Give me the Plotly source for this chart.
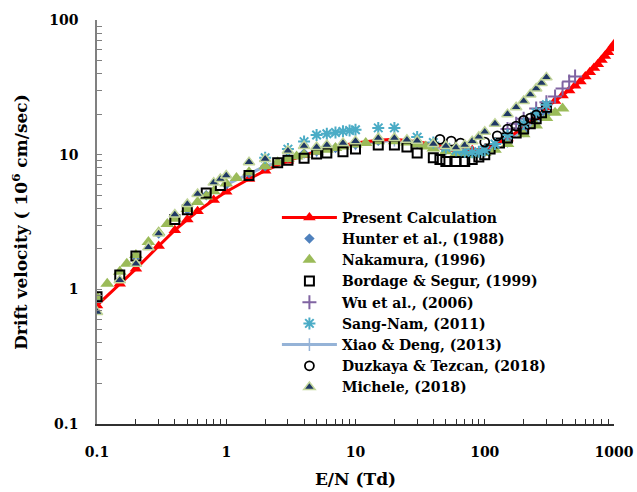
import plotly.graph_objects as go

# ---------------- data ----------------
pc_x = [0.1, 0.15, 0.2, 0.3, 0.4, 0.5, 0.6, 0.8, 1, 1.5, 2, 3, 4, 5, 6, 8, 10, 15, 20, 30, 40, 50, 60, 80, 100,
        150, 200, 250, 300, 350, 400, 450, 500, 550, 600, 650, 700, 750, 800, 850, 900, 950, 1000]
pc_v = [0.76, 1.1, 1.42, 2.1, 2.75, 3.3, 3.8, 4.6, 5.3, 6.6, 7.6, 9.0, 9.9, 10.5, 11.0, 11.7, 12.2, 12.8, 13.0,
        12.5, 11.9, 11.4, 11.0, 10.8, 11.0, 13.2, 16.0, 19.0, 22.5, 25.0, 27.5, 30.0, 32.5, 35.0, 38.0, 41.0,
        44.0, 47.0, 50.5, 54.0, 57.5, 61.5, 66.0]

hu_x = [0.1, 0.2, 0.3, 0.5, 0.7, 1, 1.5, 2, 3, 4, 5, 7, 10, 15, 20, 30, 50, 70, 100, 150, 200, 300]
hu_v = [0.86, 1.75, 2.6, 3.9, 5.0, 6.0, 7.3, 8.2, 9.5, 10.2, 10.6, 11.2, 11.9, 12.7, 13.0, 12.2, 10.9, 10.3,
        10.6, 12.3, 14.8, 20.0]

nk_x = [0.1, 0.12, 0.15, 0.17, 0.2, 0.25, 0.3, 0.35, 0.4, 0.5, 0.6, 0.7, 0.8, 1, 1.2, 1.5, 2, 2.5, 3, 3.5, 4,
        5, 6, 7, 8, 10, 12, 15, 20, 25, 30, 35, 40, 50, 60, 70, 80, 100, 120, 150, 200, 250, 300, 350, 400]
nk_v = [0.88, 1.1, 1.35, 1.55, 1.8, 2.25, 2.65, 3.05, 3.35, 3.95, 4.45, 4.9, 5.35, 6.1, 6.7, 7.4, 8.2, 8.8,
        9.3, 9.7, 10.0, 10.5, 10.9, 11.2, 11.5, 11.9, 12.2, 12.6, 12.6, 12.3, 11.9, 11.5, 11.1, 10.6, 10.2,
        10.0, 10.0, 10.3, 10.9, 12.0, 14.2, 16.5, 18.7, 20.5, 22.0]

bs_x = [0.1, 0.15, 0.2, 0.4, 0.5, 0.7, 0.9, 1.5, 2.5, 3, 4, 5, 6, 8, 10, 15, 20, 25, 30, 40, 45, 50, 60, 70,
        80, 90, 100, 110, 130, 150, 175, 200, 225, 250, 275, 300]
bs_v = [0.88, 1.28, 1.77, 3.3, 3.9, 5.2, 5.9, 7.0, 8.7, 9.1, 9.4, 10.1, 10.3, 10.5, 11.0, 11.8, 11.8, 11.4,
        10.3, 9.5, 9.2, 8.9, 8.9, 8.9, 9.2, 9.6, 10.0, 11.0, 12.2, 13.3, 14.5, 15.5, 17.0, 18.5, 20.5, 22.5]

wu_x = [150, 175, 200, 250, 300, 350, 400, 450, 500]
wu_v = [15.5, 17.0, 18.5, 22.0, 24.5, 27.0, 31.0, 35.0, 38.0]

sn_x = [2, 3, 4, 5, 6, 7, 8, 9, 10, 15, 20, 30, 40, 50, 60, 70, 80, 90, 100, 120, 150, 200, 250, 300]
sn_v = [9.5, 11.0, 12.5, 14.0, 14.3, 14.6, 14.9, 15.1, 15.3, 15.8, 15.8, 13.5, 12.3, 11.3, 10.8, 10.5, 10.4,
        10.5, 10.8, 12.0, 14.0, 17.0, 20.5, 23.5]

xd_x = [1, 2, 5, 10, 20, 50, 100, 200, 300]
xd_v = [6.0, 8.2, 10.6, 12.0, 12.8, 11.0, 10.6, 15.0, 20.0]

dt_x = [45, 55, 65, 100, 125, 150, 175, 200, 225, 250]
dt_v = [13.0, 12.6, 12.2, 12.4, 13.8, 15.5, 16.3, 18.0, 18.7, 19.7]

mi_x = [0.1, 0.15, 0.2, 0.25, 0.3, 0.4, 0.5, 0.6, 0.8, 0.9, 1, 1.5, 2, 3, 4, 5, 6, 8, 10, 15, 20, 25, 30,
        40, 50, 60, 70, 80, 90, 100, 120, 150, 175, 200, 225, 250, 275, 300]
mi_v = [0.68, 1.17, 1.55, 2.05, 2.6, 3.6, 4.3, 5.1, 6.2, 6.6, 7.0, 8.8, 9.3, 10.7, 11.6, 11.4, 11.8, 12.2,
        12.6, 13.3, 13.3, 12.9, 12.7, 12.0, 11.6, 11.3, 11.8, 12.6, 13.6, 14.8, 17.0, 20.0, 22.5, 25.0,
        28.0, 31.0, 34.0, 37.5]

x_tick_decades = [0.1, 1, 10, 100, 1000]
x_tick_text = ["0.1", "1", "10", "100", "1000"]
y_tick_decades = [0.1, 1, 10, 100]
y_tick_text = ["0.1", "1", "10", "100"]

# ---------------- figure ----------------
FONT = "DejaVu Serif"
fig = go.Figure()

fig.add_trace(go.Scatter(x=xd_x, y=xd_v, mode="lines+markers", name="Xiao & Deng, (2013)",
                         line=dict(color="#95B3D7", width=3),
                         marker=dict(symbol="line-ns", size=9, line=dict(color="#95B3D7", width=1.5)),
                         legendrank=7))
fig.add_trace(go.Scatter(x=pc_x, y=pc_v, mode="lines+markers", name="Present Calculation",
                         line=dict(color="#FF0000", width=3),
                         marker=dict(symbol="triangle-up", size=11, color="#FF0000"),
                         legendrank=1))
fig.add_trace(go.Scatter(x=hu_x, y=hu_v, mode="markers", name="Hunter et al., (1988)",
                         marker=dict(symbol="diamond", size=8, color="#4F81BD"),
                         legendrank=2))
fig.add_trace(go.Scatter(x=nk_x, y=nk_v, mode="markers", name="Nakamura, (1996)",
                         marker=dict(symbol="triangle-up", size=12, color="#9BBB59"),
                         legendrank=3))
fig.add_trace(go.Scatter(x=bs_x, y=bs_v, mode="markers", name="Bordage & Segur, (1999)",
                         marker=dict(symbol="square-open", size=9, color="#000000", line=dict(width=2)),
                         legendrank=4))
fig.add_trace(go.Scatter(x=wu_x, y=wu_v, mode="markers", name="Wu et al., (2006)",
                         marker=dict(symbol="cross-thin", size=10, color="#8064A2",
                                     line=dict(color="#8064A2", width=2)),
                         legendrank=5))
fig.add_trace(go.Scatter(x=sn_x, y=sn_v, mode="markers", name="Sang-Nam, (2011)",
                         marker=dict(symbol="asterisk-open", size=10, color="#4BACC6",
                                     line=dict(color="#4BACC6", width=2)),
                         legendrank=6))
fig.add_trace(go.Scatter(x=dt_x, y=dt_v, mode="markers", name="Duzkaya & Tezcan, (2018)",
                         marker=dict(symbol="circle-open", size=9, color="#000000", line=dict(width=1.8)),
                         legendrank=8))
fig.add_trace(go.Scatter(x=mi_x, y=mi_v, mode="markers", name="Michele, (2018)",
                         marker=dict(symbol="triangle-up", size=10, color="#1F3864",
                                     line=dict(color="#C3D69B", width=1.5)),
                         legendrank=9))

x_all = [d * m for d in [0.1, 1, 10, 100] for m in range(1, 10)] + [1000]
x_txt = [("<b>%s</b>" % x_tick_text[x_tick_decades.index(v)]) if v in x_tick_decades else "" for v in x_all]
y_all = [d * m for d in [0.1, 1, 10] for m in range(1, 10)] + [100]
y_txt = [("<b>%s</b>" % y_tick_text[y_tick_decades.index(v)]) if v in y_tick_decades else "" for v in y_all]

fig.update_layout(
    width=637, height=492,
    margin=dict(l=97, r=23, t=20, b=68),
    paper_bgcolor="white", plot_bgcolor="white",
    font=dict(family=FONT, color="#000000"),
    showlegend=True,
    legend=dict(x=0.348, y=0.55, xanchor="left", yanchor="top",
                bgcolor="rgba(0,0,0,0)", borderwidth=0,
                font=dict(family=FONT, size=14, color="#000000", weight="bold"),
                itemwidth=55, tracegroupgap=0),
    xaxis=dict(type="log", range=[-1, 3], showgrid=False, zeroline=False, automargin=False,
               showline=True, linecolor="#303030", linewidth=1.5,
               tickmode="array", tickvals=x_all, ticktext=x_txt,
               ticks="inside", ticklen=5, tickcolor="#303030", tickwidth=1,
               tickfont=dict(family=FONT, size=14, color="#000000"),
               ticklabelstandoff=14,
               title=dict(text="<b>E/N (Td)</b>", font=dict(family=FONT, size=17), standoff=15)),
    yaxis=dict(type="log", range=[-1, 2], showgrid=False, zeroline=False, automargin=False,
               showline=True, linecolor="#808080", linewidth=1.5,
               tickmode="array", tickvals=y_all, ticktext=y_txt,
               ticks="inside", ticklen=5, tickcolor="#808080", tickwidth=1,
               tickfont=dict(family=FONT, size=14, color="#000000"),
               ticklabelstandoff=14,
               title=dict(text="<b>Drift velocity ( 10<sup>6</sup> cm/sec)</b>",
                          font=dict(family=FONT, size=17), standoff=17)),
)

fig.write_html("out.html", config={"displayModeBar": False},
               post_script="document.body.style.margin='0';")
